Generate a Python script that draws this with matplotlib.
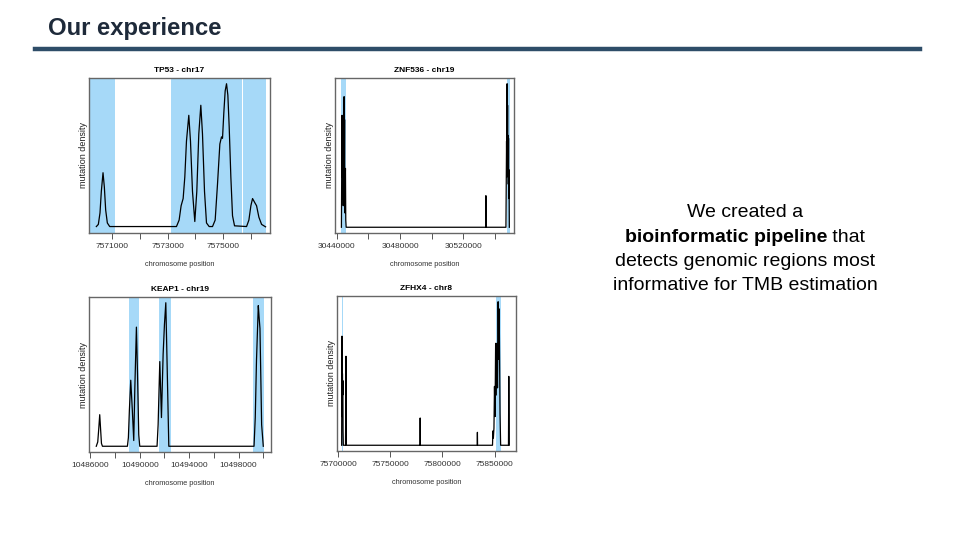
import matplotlib

matplotlib.use("Agg")
import matplotlib.pyplot as plt  # noqa: E402

plt.rcParams["font.family"] = ["Liberation Sans", "DejaVu Sans"]

BAND = "#a6d9f8"

# --- TP53 - chr17 -----------------------------------------------------------
tp53_x = [7570422, 7570494, 7570554, 7570602, 7570663, 7570711, 7570759, 7570819,
          7570904, 7573314, 7573410, 7573482, 7573555, 7573615, 7573675, 7573759,
          7573820, 7573892, 7573976, 7574048, 7574120, 7574193, 7574253, 7574326,
          7574398, 7574494, 7574615, 7574711, 7574795, 7574880, 7574940, 7574976,
          7575024, 7575072, 7575121, 7575169, 7575217, 7575277, 7575337, 7575410,
          7575844, 7575928, 7576000, 7576060, 7576145, 7576205, 7576289, 7576386,
          7576530]
tp53_y = [0.5, 2, 10, 25, 38, 28, 12, 3,
          0.5, 0.5, 5, 15, 20, 35, 60, 78,
          60, 25, 4, 25, 65, 85, 65, 25,
          3, 0.5, 0.5, 5, 30, 58, 63, 62,
          80, 95, 100, 92, 70, 35, 8, 1,
          0.5, 5, 15, 20, 17, 15, 7, 2,
          0.3]
tp53_bands = [(7570157, 7571084), (7573133, 7575687), (7575712, 7576530)]
tp53_ticks = [7571000, 7572000, 7573000, 7574000, 7575000, 7576000]
tp53_labels = ["7571000", "", "7573000", "", "7575000", ""]
tp53_xlim = (7570157, 7576690)

# --- ZNF536 - chr19 ---------------------------------------------------------
znf_x = [30443000, 30443200, 30443400, 30443550, 30443700, 30443850, 30444000,
         30444150, 30444350, 30444500, 30444700, 30444850, 30445000, 30445150,
         30445350, 30445550, 30445750, 30446000, 30534100, 30534250, 30534400,
         30546900, 30547100, 30547300, 30547450, 30547650, 30547800, 30547950,
         30548100, 30548250, 30548400, 30548550, 30548700, 30548850, 30549050]
znf_y = [0, 40, 78, 35, 70, 20, 60,
         15, 55, 30, 91, 40, 75, 10,
         30, 41, 5, 0, 0, 22, 0,
         0, 30, 60, 35, 100, 50, 85,
         40, 64, 30, 62, 20, 40, 0]
znf_bands = [(30442740, 30445680), (30547355, 30549460)]
znf_ticks = [30440000, 30460000, 30480000, 30500000, 30520000, 30540000]
znf_labels = ["30440000", "", "30480000", "", "30520000", ""]
znf_xlim = (30438950, 30552000)

# --- KEAP1 - chr19 ----------------------------------------------------------
keap_x = [10486480, 10486600, 10486680, 10486760, 10486830, 10486900, 10486980,
          10489000, 10489080, 10489160, 10489271, 10489400, 10489514, 10489600,
          10489730, 10489820, 10489920, 10490000, 10491400, 10491487, 10491622,
          10491757, 10491892, 10492000, 10492109, 10492244, 10492352, 10499250,
          10499350, 10499450, 10499596, 10499660, 10499731, 10499866, 10500000]
keap_y = [0, 3, 12, 22, 12, 2, 0,
          0, 6, 25, 46, 25, 4, 40,
          83, 50, 8, 0, 0, 15, 59,
          20, 64, 85, 100, 45, 0, 0,
          20, 60, 98, 90, 82, 15, 0]
keap_bands = [(10489135, 10489946), (10491568, 10492568), (10499190, 10500056)]
keap_ticks = [10486000, 10488000, 10490000, 10492000, 10494000, 10496000,
              10498000, 10500000]
keap_labels = ["10486000", "", "10490000", "", "10494000", "", "10498000", ""]
keap_xlim = (10485892, 10500624)

# --- ZFHX4 - chr8 -----------------------------------------------------------
zfhx_x = [75703500, 75703800, 75704000, 75704250, 75704450, 75704650, 75704850,
          75705100, 75707200, 75707644, 75708000, 75778500, 75778670, 75778850,
          75833300, 75833450, 75833600, 75847900, 75848300, 75848740, 75849300,
          75849800, 75850330, 75850900, 75851500, 75852100, 75852700, 75853300,
          75853800, 75854300, 75855110, 75855700, 75863200, 75863500, 75863900]
zfhx_y = [0, 76, 20, 50, 35, 45, 10,
          0, 0, 62, 0, 0, 19, 0,
          0, 9, 0, 0, 10, 5, 12,
          41, 20, 71, 35, 71, 40, 100,
          60, 95, 22, 0, 0, 48, 0]
zfhx_bands = [(75703822, 75704780), (75850970, 75856060)]
zfhx_ticks = [75700000, 75750000, 75800000, 75850000]
zfhx_labels = ["75700000", "75750000", "75800000", "75850000"]
zfhx_xlim = (75699045, 75870400)

W, H = 960, 540


def px_axes(fig, left, top, right, bottom):
    return fig.add_axes([left / W, 1 - bottom / H, (right - left) / W, (bottom - top) / H])


def draw_panel(ax, xs, ys, bands, ticks, labels, xlim, title):
    for a, b in bands:
        ax.axvspan(a, b, color=BAND, lw=0)
    ax.plot(xs, ys, color="black", lw=0.9)
    ax.set_xlim(xlim)
    ymax = max(ys)
    ax.set_ylim(-0.04 * ymax, 1.04 * ymax)
    ax.set_yticks([])
    ax.set_xticks(ticks)
    ax.set_xticklabels(labels)
    ax.tick_params(axis="x", direction="out", length=4, width=0.7, colors="#555555",
                   labelsize=6, pad=3, labelcolor="#333333")
    for s in ax.spines.values():
        s.set_color("#666666")
        s.set_linewidth(1.0)
    ax.set_title(title, fontsize=6, fontweight="bold", pad=4)
    ax.set_ylabel("mutation density", fontsize=6.5, labelpad=1, color="#222222")
    ax.set_xlabel("chromosome position", fontsize=5.3, labelpad=8, color="#333333")


fig = plt.figure(figsize=(9.6, 5.4), dpi=100)

fig.text(48 / W, 1 - 28 / H, "Our experience", fontsize=17.2, fontweight="bold",
         color="#1e2a3a", va="center", ha="left")
fig.add_artist(plt.Line2D([35 / W, 920 / W], [1 - 48.5 / H, 1 - 48.5 / H],
                          color="#2e4d68", lw=3.2))

ax1 = px_axes(fig, 89, 78, 270, 233)
draw_panel(ax1, tp53_x, tp53_y, tp53_bands, tp53_ticks, tp53_labels, tp53_xlim,
           "TP53 - chr17")
ax2 = px_axes(fig, 335, 78, 514, 233)
draw_panel(ax2, znf_x, znf_y, znf_bands, znf_ticks, znf_labels, znf_xlim,
           "ZNF536 - chr19")
ax3 = px_axes(fig, 89, 297, 271, 452)
draw_panel(ax3, keap_x, keap_y, keap_bands, keap_ticks, keap_labels, keap_xlim,
           "KEAP1 - chr19")
ax4 = px_axes(fig, 337, 296, 516, 451)
draw_panel(ax4, zfhx_x, zfhx_y, zfhx_bands, zfhx_ticks, zfhx_labels, zfhx_xlim,
           "ZFHX4 - chr8")

# right-hand text block
cx = 745
fs = 14
fig.text(cx / W, 1 - 213 / H, "We created a", fontsize=fs, ha="center", va="center")
fig.text(cx / W, 1 - 261 / H, "detects genomic regions most", fontsize=fs,
         ha="center", va="center")
fig.text(cx / W, 1 - 285 / H, "informative for TMB estimation", fontsize=fs,
         ha="center", va="center")
t_b = fig.text(0, 1 - 237 / H, "bioinformatic pipeline", fontsize=fs,
               fontweight="bold", ha="left", va="center")
t_n = fig.text(0, 1 - 237 / H, " that", fontsize=fs, ha="left", va="center")
fig.canvas.draw()
r = fig.canvas.get_renderer()
wb = t_b.get_window_extent(r).width
wn = t_n.get_window_extent(r).width
x0 = cx - (wb + wn) / 2
t_b.set_x(x0 / W)
t_n.set_x((x0 + wb) / W)

fig.savefig("out.png", dpi=100)
